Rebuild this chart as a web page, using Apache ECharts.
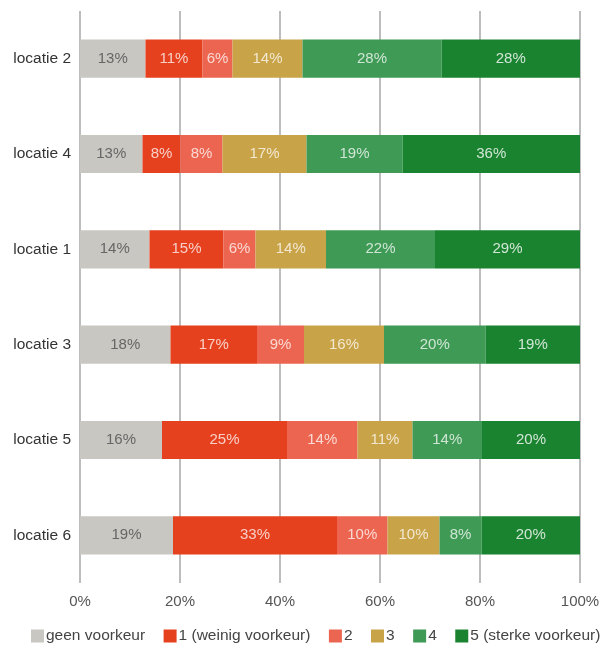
<!DOCTYPE html>
<html>
<head>
<meta charset="utf-8">
<script src="https://cdn.jsdelivr.net/npm/echarts@6/dist/echarts.min.js"></script>
<style>
  html, body { margin: 0; padding: 0; background: #fff; }
  #chart { width: 604px; height: 645px; }
</style>
</head>
<body>
<div id="chart"></div>
<script>
// locaties, van boven naar beneden
const locaties = ['locatie 2', 'locatie 4', 'locatie 1', 'locatie 3', 'locatie 5', 'locatie 6'];
const seriesNames = ['geen voorkeur', '1 (weinig voorkeur)', '2', '3', '4', '5 (sterke voorkeur)'];

const geenVoorkeur = [13.1, 12.5, 13.9, 18.1, 16.4, 18.6];
const weinig = [11.4, 7.6, 14.8, 17.3, 25.0, 32.8];
const score2 = [6.0, 8.4, 6.4, 9.4, 14.1, 10.1];
const score3 = [14.0, 16.8, 14.1, 16.0, 11.0, 10.4];
const score4 = [27.8, 19.2, 21.8, 20.3, 13.9, 8.4];
const sterk = [27.7, 35.5, 29.0, 18.9, 19.6, 19.7];

const xTicks = [0, 20, 40, 60, 80, 100];

const colors = ['#c8c7c2', '#e5411f', '#ec6550', '#c9a347', '#3f9a56', '#1a8330'];
const labelColors = ['#666666', 'rgba(255,255,255,0.75)', 'rgba(255,255,255,0.75)',
  'rgba(255,255,255,0.75)', 'rgba(255,255,255,0.75)', 'rgba(255,255,255,0.8)'];

const allData = [geenVoorkeur, weinig, score2, score3, score4, sterk];

const chart = echarts.init(document.getElementById('chart'));

const option = {
  backgroundColor: '#ffffff',
  textStyle: { fontFamily: 'Liberation Sans, Arial, sans-serif' },
  grid: { left: 80, right: 24, top: 11, bottom: 62, containLabel: false },
  legend: {
    data: seriesNames,
    top: 628,
    left: 31,
    width: 573,
    padding: 0,
    itemWidth: 13,
    itemHeight: 13,
    itemGap: 18.5,
    icon: 'rect',
    textStyle: { color: '#444', fontSize: 15.5, padding: [0, 0, 0, -3] }
  },
  xAxis: {
    type: 'value',
    min: xTicks[0],
    max: xTicks[xTicks.length - 1],
    interval: 20,
    axisLine: { show: false },
    axisTick: { show: false },
    axisLabel: {
      color: '#555',
      fontSize: 15,
      margin: 11,
      formatter: v => v + '%'
    },
    splitLine: { show: true, lineStyle: { color: '#bdbdbd', width: 2 } }
  },
  yAxis: {
    type: 'category',
    data: locaties,
    inverse: true,
    axisLine: { show: false },
    axisTick: { show: false },
    axisLabel: { color: '#333', fontSize: 15.5, margin: 9 }
  },
  series: seriesNames.map((name, i) => ({
    name: name,
    type: 'bar',
    stack: 'totaal',
    data: allData[i],
    barWidth: '40%',
    itemStyle: { color: colors[i] },
    label: {
      show: true,
      position: 'inside',
      color: labelColors[i],
      fontSize: 15,
      formatter: p => Math.round(p.value) + '%'
    }
  }))
};

chart.setOption(option);
</script>
</body>
</html>
